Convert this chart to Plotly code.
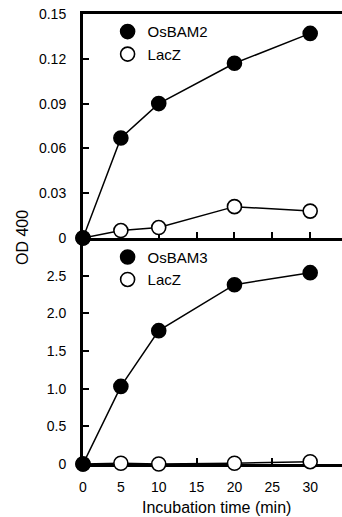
import plotly.graph_objects as go

time = [0, 5, 10, 20, 30]
osbam2 = [0, 0.067, 0.090, 0.117, 0.137]
lacz_top = [0, 0.005, 0.007, 0.021, 0.018]
osbam3 = [0, 1.03, 1.77, 2.38, 2.54]
lacz_bottom = [0, 0.01, 0.0, 0.01, 0.03]

top_ticks = [0, 0.03, 0.06, 0.09, 0.12, 0.15]
top_ticktext = ["0", "0.03", "0.06", "0.09", "0.12", "0.15"]
bot_ticks = [0, 0.5, 1.0, 1.5, 2.0, 2.5]
bot_ticktext = ["0", "0.5", "1.0", "1.5", "2.0", "2.5"]
x_ticks = [0, 5, 10, 15, 20, 25, 30]

FONT = "Liberation Sans, Arial, Helvetica, sans-serif"

fig = go.Figure()

def add_series(x, y, name, filled, xa, ya, leg):
    fig.add_trace(go.Scatter(x=x, y=y, mode="lines", xaxis=xa, yaxis=ya,
                             line=dict(color="black", width=1.5),
                             showlegend=False, cliponaxis=False, hoverinfo="skip"))
    fig.add_trace(go.Scatter(x=x, y=y, mode="markers", name=name, xaxis=xa, yaxis=ya,
                             marker=dict(size=14, color="black" if filled else "white",
                                         line=dict(color="black", width=1.6)),
                             legend=leg, cliponaxis=False))

# bottom panel (x, y)
add_series(time, lacz_bottom, "LacZ", False, "x", "y", "legend")
add_series(time, osbam3, "OsBAM3", True, "x", "y", "legend")
# top panel (x2, y2)
add_series(time, lacz_top, "LacZ", False, "x2", "y2", "legend2")
add_series(time, osbam2, "OsBAM2", True, "x2", "y2", "legend2")

split = 226 / 450

axis_common = dict(showline=True, linecolor="black", linewidth=3, ticks="inside",
                   ticklen=6, tickwidth=2, tickcolor="black", showgrid=False,
                   zeroline=False, layer="below traces",
                   tickfont=dict(family=FONT, size=14, color="black"))

fig.update_layout(
    width=342, height=517,
    margin=dict(l=83, r=0, t=14, b=53),
    paper_bgcolor="white", plot_bgcolor="white",
    font=dict(family=FONT, size=14, color="black"),
    xaxis=dict(domain=[0, 1], range=[0, 34.2], anchor="y", tickvals=x_ticks,
               ticktext=[str(v) for v in x_ticks], ticklabelstandoff=8, **axis_common),
    yaxis=dict(domain=[0, split], range=[0, 3.0], anchor="x", tickvals=bot_ticks,
               ticktext=bot_ticktext, ticklabelstandoff=11, **axis_common),
    xaxis2=dict(domain=[0, 1], range=[0, 34.2], anchor="y2", tickvals=x_ticks,
                showticklabels=False, mirror=True, **axis_common),
    yaxis2=dict(domain=[split, 1], range=[0, 0.15], anchor="x2", tickvals=top_ticks,
                ticktext=top_ticktext, ticklabelstandoff=11, **axis_common),
    legend=dict(x=0.095, y=split - 0.006, xanchor="left", yanchor="top",
                bgcolor="rgba(0,0,0,0)", font=dict(family=FONT, size=15),
                traceorder="reversed"),
    legend2=dict(x=0.095, y=0.997, xanchor="left", yanchor="top",
                 bgcolor="rgba(0,0,0,0)", font=dict(family=FONT, size=15),
                 traceorder="reversed"),
    annotations=[
        dict(text="OD 400", xref="paper", yref="paper", x=-0.2355, y=split,
             xanchor="center", yanchor="middle", textangle=-90, showarrow=False,
             font=dict(family=FONT, size=16)),
        dict(text="Incubation time (min)", xref="paper", yref="paper", x=0.517,
             y=-0.0956, xanchor="center", yanchor="middle", showarrow=False,
             font=dict(family=FONT, size=16)),
    ],
)

fig.write_html("out.html", config={"displayModeBar": False},
               post_script="document.body.style.margin='0';document.body.style.overflow='hidden';")
